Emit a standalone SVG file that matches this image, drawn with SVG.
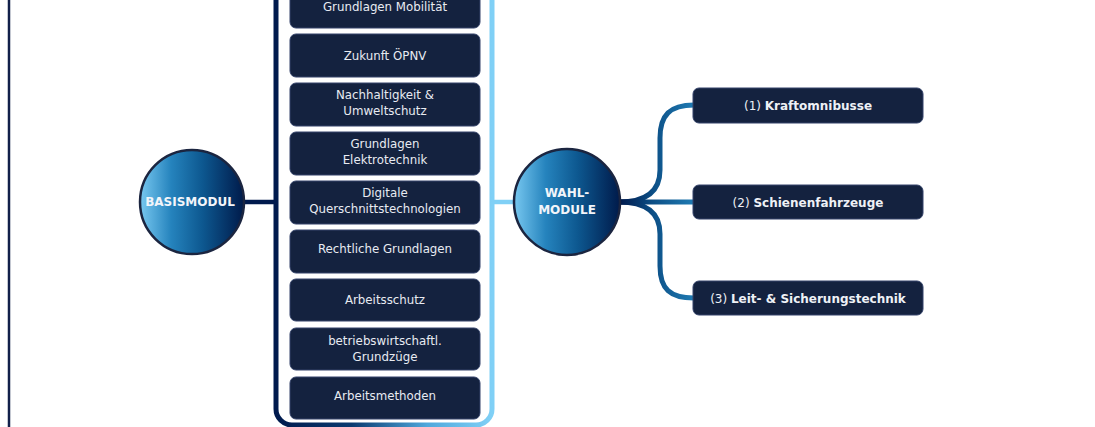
<svg xmlns="http://www.w3.org/2000/svg" width="1095" height="427" viewBox="0 0 1095 427">
  <defs>
    <linearGradient id="circ" x1="0" y1="0" x2="1" y2="0">
      <stop offset="0" stop-color="#78c8f0"/>
      <stop offset="0.3" stop-color="#2583bd"/>
      <stop offset="0.6" stop-color="#0d5890"/>
      <stop offset="1" stop-color="#001a4a"/>
    </linearGradient>
    <linearGradient id="bracket" gradientUnits="userSpaceOnUse" x1="276" y1="0" x2="492" y2="0">
      <stop offset="0" stop-color="#001a4d"/>
      <stop offset="0.35" stop-color="#0a3a70"/>
      <stop offset="0.7" stop-color="#4fa8dc"/>
      <stop offset="1" stop-color="#80d0f6"/>
    </linearGradient>
    <linearGradient id="branch" gradientUnits="userSpaceOnUse" x1="620" y1="0" x2="693" y2="0">
      <stop offset="0" stop-color="#001a4d"/>
      <stop offset="0.45" stop-color="#0c4f86"/>
      <stop offset="1" stop-color="#1f7ab2"/>
    </linearGradient>
  </defs>
  <style>
    .box { fill: #14223f; stroke: #34436a; stroke-width: 1; }
    .bt { font-family: "DejaVu Sans", Verdana, sans-serif; font-size: 11.8px; fill: #e8ebf2; text-anchor: middle; }
    .rt { font-family: "DejaVu Sans", Verdana, sans-serif; font-size: 12px; fill: #eef1f6; text-anchor: middle; }
    .b { font-weight: bold; }
    .ct { font-family: "DejaVu Sans", Verdana, sans-serif; font-size: 12px; font-weight: bold; fill: #f2f5fa; text-anchor: middle; }
    .circ { fill: url(#circ); stroke: #1b2540; stroke-width: 2.5; }
    .br { fill: none; stroke: url(#branch); stroke-width: 5; stroke-linecap: butt; }
  </style>

  <g id="frame">
    <line x1="9" y1="0" x2="9" y2="427" stroke="#12204a" stroke-width="2.5"/>
  </g>

  <g id="connectors">
    <line x1="245" y1="202" x2="276" y2="202" stroke="#001a4d" stroke-width="4.5"/>
    <line x1="492" y1="202" x2="514" y2="202" stroke="#80d0f6" stroke-width="4.5"/>
    <path class="br" d="M619,202 C645,202 660,192 660,170 L660,138 C660,115 670,105 694,105"/>
    <path class="br" d="M619,202 L694,202" stroke-width="4"/>
    <path class="br" d="M619,202 C645,202 660,212 660,234 L660,266 C660,289 670,298 694,298"/>
  </g>

  <g id="bracket-group">
    <rect x="276" y="-40" width="216" height="465" rx="16" ry="16" fill="none" stroke="url(#bracket)" stroke-width="5"/>
  </g>

  <g id="basismodul">
    <circle class="circ" cx="192" cy="202" r="52"/>
    <text class="ct" x="190" y="206">BASISMODUL</text>
  </g>

  <g id="m1">
    <rect class="box" x="290" y="-15" width="190" height="43" rx="6"/>
    <text class="bt" x="385" y="11">Grundlagen Mobilität</text>
  </g>
  <g id="m2">
    <rect class="box" x="290" y="34" width="190" height="43" rx="6"/>
    <text class="bt" x="385" y="60">Zukunft ÖPNV</text>
  </g>
  <g id="m3">
    <rect class="box" x="290" y="83" width="190" height="43" rx="6"/>
    <text class="bt" x="385" y="99">Nachhaltigkeit &amp;</text>
    <text class="bt" x="385" y="115">Umweltschutz</text>
  </g>
  <g id="m4">
    <rect class="box" x="290" y="132" width="190" height="43" rx="6"/>
    <text class="bt" x="385" y="148">Grundlagen</text>
    <text class="bt" x="385" y="164">Elektrotechnik</text>
  </g>
  <g id="m5">
    <rect class="box" x="290" y="181" width="190" height="43" rx="6"/>
    <text class="bt" x="385" y="197">Digitale</text>
    <text class="bt" x="385" y="213">Querschnittstechnologien</text>
  </g>
  <g id="m6">
    <rect class="box" x="290" y="230" width="190" height="43" rx="6"/>
    <text class="bt" x="385" y="253">Rechtliche Grundlagen</text>
  </g>
  <g id="m7">
    <rect class="box" x="290" y="279" width="190" height="42" rx="6"/>
    <text class="bt" x="385" y="304">Arbeitsschutz</text>
  </g>
  <g id="m8">
    <rect class="box" x="290" y="328" width="190" height="42" rx="6"/>
    <text class="bt" x="385" y="345">betriebswirtschaftl.</text>
    <text class="bt" x="385" y="361">Grundzüge</text>
  </g>
  <g id="m9">
    <rect class="box" x="290" y="377" width="190" height="42" rx="6"/>
    <text class="bt" x="385" y="400">Arbeitsmethoden</text>
  </g>

  <g id="wahlmodule">
    <circle class="circ" cx="567" cy="202" r="53"/>
    <text class="ct" x="567" y="197">WAHL-</text>
    <text class="ct" x="567" y="214">MODULE</text>
  </g>

  <g id="w1">
    <rect class="box" x="693" y="88" width="230" height="35" rx="6"/>
    <text class="rt" x="808" y="110">(1) <tspan class="b">Kraftomnibusse</tspan></text>
  </g>
  <g id="w2">
    <rect class="box" x="693" y="185" width="230" height="34" rx="6"/>
    <text class="rt" x="808" y="206.5">(2) <tspan class="b">Schienenfahrzeuge</tspan></text>
  </g>
  <g id="w3">
    <rect class="box" x="693" y="281" width="230" height="34" rx="6"/>
    <text class="rt" x="808" y="302.5">(3) <tspan class="b">Leit- &amp; Sicherungstechnik</tspan></text>
  </g>
</svg>
